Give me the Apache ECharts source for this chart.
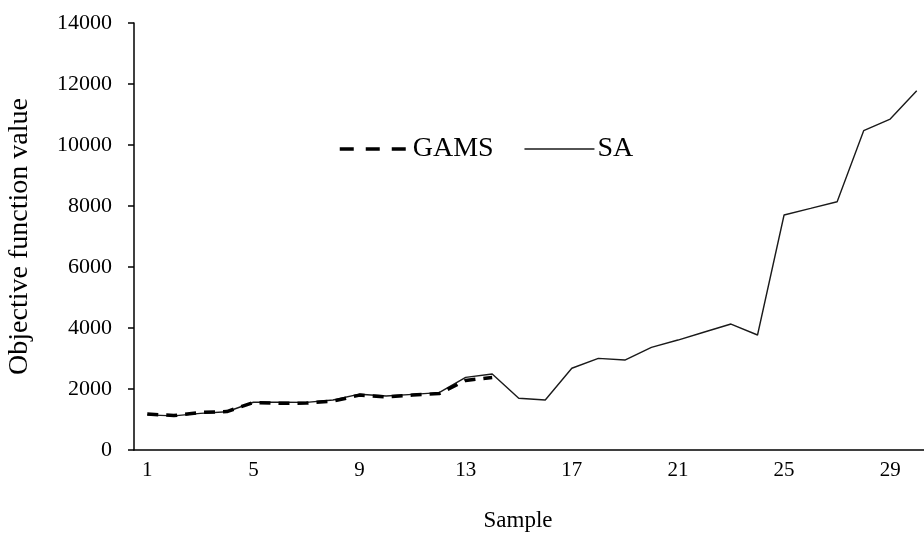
<!DOCTYPE html>
<html>
<head>
<meta charset="utf-8">
<script src="https://cdn.jsdelivr.net/npm/echarts@6/dist/echarts.min.js"></script>
<style>
  html, body { margin: 0; padding: 0; background: #fff; }
  #chart { width: 924px; height: 534px; }
</style>
</head>
<body>
<div id="chart"></div>
<script>
// sample numbers 1..30
var samples = [];
for (var i = 1; i <= 30; i++) samples.push(String(i));

// GAMS only solved the first 14 samples
var gamsValues = [1180, 1130, 1230, 1260, 1560, 1530, 1540, 1600, 1800, 1740, 1800, 1850, 2280, 2380];
var saValues = [1150, 1120, 1200, 1255, 1565, 1565, 1560, 1640, 1830, 1770, 1825, 1880, 2380, 2490,
  1695, 1640, 2680, 3005, 2950, 3365, 3605, 3870, 4130, 3770, 7705, 7920, 8140, 10470, 10850, 11780];

var font = '"Liberation Serif", "Times New Roman", serif';

var chart = echarts.init(document.getElementById('chart'));
var option = {
  animation: false,
  grid: {
    left: 134,
    right: -6,
    top: 23,
    bottom: 84,
    containLabel: false,
    outerBoundsMode: 'none'
  },
  legend: {
    left: 333,
    top: 130,
    itemWidth: 70,
    itemHeight: 14,
    itemGap: 30,
    itemStyle: { opacity: 0 },
    textStyle: { fontFamily: font, fontSize: 28, color: '#000', padding: [0, 0, 0, -2] },
    data: [
      { name: 'GAMS', lineStyle: { width: 3.5, type: [14, 12], color: '#000' } },
      { name: 'SA', lineStyle: { width: 1.6, type: 'solid', color: '#1a1a1a' } }
    ]
  },
  xAxis: {
    type: 'category',
    data: samples,
    boundaryGap: true,
    name: 'Sample',
    nameLocation: 'middle',
    nameGap: 59,
    nameTextStyle: { fontFamily: font, fontSize: 23, color: '#000', padding: [0, 28, 0, 0] },
    axisLine: { lineStyle: { color: '#000', width: 1.5 } },
    axisTick: { show: false },
    axisLabel: {
      interval: 3,
      margin: 10,
      fontFamily: font,
      fontSize: 21,
      color: '#000'
    },
    splitLine: { show: false }
  },
  yAxis: {
    type: 'value',
    min: 0,
    max: 14000,
    interval: 2000,
    name: 'Objective function value',
    nameLocation: 'middle',
    nameGap: 100,
    nameTextStyle: { fontFamily: font, fontSize: 28, color: '#000' },
    axisLine: { show: true, lineStyle: { color: '#000', width: 1.5 } },
    axisTick: { show: true, inside: false, length: 6, lineStyle: { color: '#000', width: 1.5 } },
    axisLabel: {
      margin: 22,
      fontFamily: font,
      fontSize: 22,
      color: '#000',
      formatter: function (v) { return String(v); }
    },
    splitLine: { show: false }
  },
  series: [
    {
      name: 'GAMS',
      type: 'line',
      data: gamsValues,
      symbol: 'none',
      z: 3,
      lineStyle: { color: '#000', width: 3.5, type: [11, 8] },
      itemStyle: { color: '#000' }
    },
    {
      name: 'SA',
      type: 'line',
      data: saValues,
      symbol: 'none',
      z: 2,
      lineStyle: { color: '#1a1a1a', width: 1.4, type: 'solid' },
      itemStyle: { color: '#000' }
    }
  ]
};
chart.setOption(option);
</script>
</body>
</html>
